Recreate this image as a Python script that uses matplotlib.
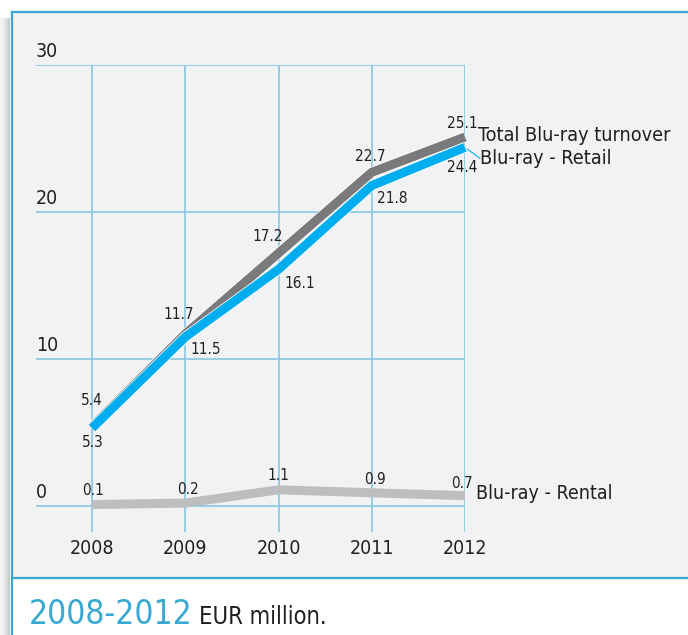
import matplotlib.pyplot as plt
import matplotlib.patches as mpatches
import matplotlib.patheffects as pe

plt.rcParams['font.family'] = ['DejaVu Sans']
plt.rcParams['font.stretch'] = 'condensed'

years = [2008, 2009, 2010, 2011, 2012]
total = [5.4, 11.7, 17.2, 22.7, 25.1]
retail = [5.3, 11.5, 16.1, 21.8, 24.4]
rental = [0.1, 0.2, 1.1, 0.9, 0.7]
y_ticks = [0, 10, 20, 30]

# label offsets in pixels (dx, dy)
total_off = [(0, 26), (-7, 20), (-11, 17), (-2, 16), (-3, 14)]
retail_off = [(1, -14), (20, -13), (21, -14), (20, -13), (-3, -20)]
rental_off = [(1, 14), (3, 14), (0, 14), (3, 13), (-3, 12)]

W, H = 688, 635
fig = plt.figure(figsize=(W / 100, H / 100), dpi=100)
fig.patch.set_facecolor('white')

# panel background, border and shadow
for i, a in enumerate([0.08, 0.14, 0.22, 0.32, 0.42]):
    fig.add_artist(mpatches.Rectangle((i * 2 / W, 0), 2 / W, (H - 18) / H, zorder=-2,
                   transform=fig.transFigure, color='#8a8a8a', alpha=a, lw=0))
fig.add_artist(mpatches.Rectangle((11 / W, 57 / H), 1, (H - 12 - 57) / H, zorder=-1,
               transform=fig.transFigure, facecolor='#f1f2f4', edgecolor='none'))
border = '#3aa9d2'
fig.add_artist(plt.Line2D([12 / W, 1], [(H - 12) / H] * 2, color=border, lw=1.6))
fig.add_artist(plt.Line2D([12 / W, 12 / W], [0, (H - 12) / H], color=border, lw=1.6))
fig.add_artist(plt.Line2D([12 / W, 1], [57 / H] * 2, color=border, lw=1.6))

ax = fig.add_axes([36 / W, (H - 532) / H, (465 - 36) / W, (532 - 65) / H])
ax.set_facecolor('none')
ax.set_xlim(2008 - 56 / 93.2, 2012)
ax.set_ylim(-26 / 14.7, 30)
for s in ax.spines.values():
    s.set_visible(False)
ax.set_xticks(years)
ax.set_yticks(y_ticks)
ax.tick_params(length=0, labelbottom=False, labelleft=False)
ax.grid(True, color='#86c6e2', lw=1.2)
ax.set_axisbelow(True)

outline = [pe.Stroke(linewidth=7.6, foreground='white'), pe.Normal()]
ax.plot(years, rental, color='#bcbec0', lw=6.5, solid_joinstyle='miter',
        solid_capstyle='butt', clip_on=False)
ax.plot(years, total, color='#7a7a7d', lw=6.5, solid_joinstyle='miter',
        solid_capstyle='butt', clip_on=False, path_effects=outline)
ax.plot(years, retail, color='#00aeef', lw=6.5, solid_joinstyle='miter',
        solid_capstyle='butt', clip_on=False, path_effects=outline)

k = 0.72  # px -> pt
txt = '#231f20'
for series, offs in [(total, total_off), (retail, retail_off), (rental, rental_off)]:
    for x, v, (dx, dy) in zip(years, series, offs):
        ax.annotate(f'{v}', (x, v), xytext=(dx * k, dy * k), textcoords='offset points',
                    ha='center', va='center', fontsize=11, color=txt)

# series names
ax.annotate('Total Blu-ray turnover', (years[-1], total[-1]), xytext=(13 * k, 2 * k),
            textcoords='offset points', ha='left', va='center', fontsize=14.2, color=txt)
ax.annotate('Blu-ray - Retail', (years[-1], retail[-1]), xytext=(15 * k, -11 * k),
            textcoords='offset points', ha='left', va='center', fontsize=14.2, color=txt)
ax.annotate('', (years[-1], retail[-1]), xytext=(15 * k, -11 * k), textcoords='offset points',
            arrowprops=dict(arrowstyle='-', color='#00aeef', lw=0.8, shrinkA=0, shrinkB=2))
ax.annotate('Blu-ray - Rental', (years[-1], rental[-1]), xytext=(11 * k, 2 * k),
            textcoords='offset points', ha='left', va='center', fontsize=14, color=txt)

# axis labels
for v in y_ticks:
    ax.annotate(str(v), (0, v), xycoords=('axes fraction', 'data'), xytext=(0, 4 * k),
                textcoords='offset points', ha='left', va='bottom', fontsize=14, color=txt)
for x in years:
    ax.annotate(str(x), (x, 0), xycoords=('data', 'axes fraction'), xytext=(0, -16 * k),
                textcoords='offset points', ha='center', va='center', fontsize=14, color=txt)

# footer
fig.text(29 / W, (H - 624) / H, '2008-2012', color='#3aa9d2', fontsize=24,
         ha='left', va='baseline')
fig.text(199 / W, (H - 624) / H, 'EUR million.', color=txt, fontsize=17,
         ha='left', va='baseline')

plt.savefig('out.png', dpi=100, facecolor='white')
